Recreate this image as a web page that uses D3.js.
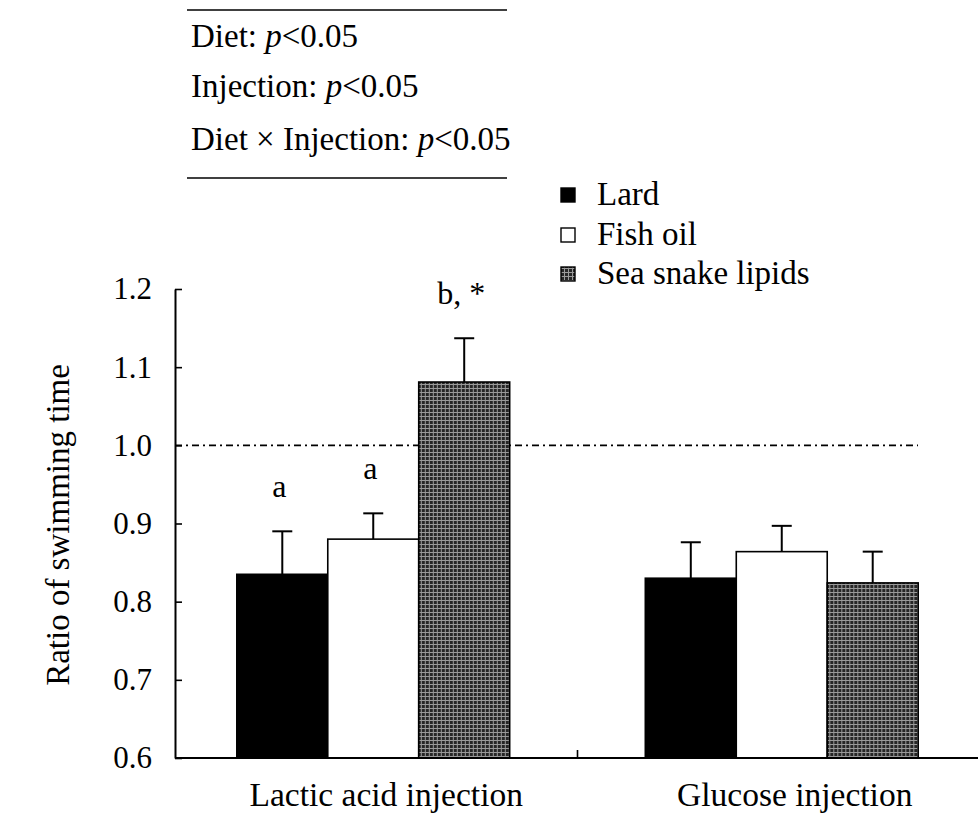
<!DOCTYPE html>
<html>
<head>
<meta charset="utf-8">
<script src="https://cdn.jsdelivr.net/npm/d3@7"></script>
<style>
  html, body { margin: 0; padding: 0; background: #fff; }
</style>
</head>
<body>
<svg id="chart" width="978" height="818"></svg>
<script>
// ---- data ----
const groups = ["Lactic acid injection", "Glucose injection"];
const diets = ["Lard", "Fish oil", "Sea snake lipids"];
const lacticMeans = [0.835, 0.880, 1.081];
const lacticSE = [0.055, 0.033, 0.056];
const glucoseMeans = [0.830, 0.864, 0.824];
const glucoseSE = [0.046, 0.033, 0.040];
const lacticLabels = ["a", "a", "b, *"];
const glucoseLabels = ["", "", ""];
const yTicks = [0.6, 0.7, 0.8, 0.9, 1.0, 1.1, 1.2];
const statsLines = [
  ["Diet: ", "p", "<0.05"],
  ["Injection: ", "p", "<0.05"],
  ["Diet \u00D7 Injection: ", "p", "<0.05"]
];
const refValue = 1.0;

const rows = [
  { group: groups[0], means: lacticMeans, se: lacticSE, labels: lacticLabels },
  { group: groups[1], means: glucoseMeans, se: glucoseSE, labels: glucoseLabels }
];

const FONT = "'Liberation Serif', Tinos, 'Times New Roman', Times, 'DejaVu Serif', serif";

// ---- layout ----
const svg = d3.select("#chart").attr("font-family", FONT);
const axisX = 175, axisBottom = 758, axisRight = 978;

const y = d3.scaleLinear().domain([0.6, 1.2]).range([758, 289]);
const x0 = d3.scaleBand().domain(groups).range([169, 986]).paddingInner(0.332).paddingOuter(0.166);
const x1 = d3.scaleBand().domain(diets).range([0, x0.bandwidth()]).padding(0);

// pattern for sea snake
const defs = svg.append("defs");
const pat = defs.append("pattern").attr("id", "grid").attr("patternUnits", "userSpaceOnUse")
  .attr("width", 4).attr("height", 4);
pat.append("rect").attr("width", 4).attr("height", 4).attr("fill", "#262626");
pat.append("rect").attr("x", 0).attr("y", 0).attr("width", 4).attr("height", 1).attr("fill", "#9a9a9a");
pat.append("rect").attr("x", 0).attr("y", 0).attr("width", 1).attr("height", 4).attr("fill", "#9a9a9a");

const fills = { "Lard": "#000", "Fish oil": "#fff", "Sea snake lipids": "url(#grid)" };

// ---- stats box ----
const stats = svg.append("g");
stats.append("line").attr("x1", 187).attr("x2", 507).attr("y1", 10).attr("y2", 10)
  .attr("stroke", "#000").attr("stroke-width", 1.6);
stats.append("line").attr("x1", 187).attr("x2", 507).attr("y1", 178).attr("y2", 178)
  .attr("stroke", "#000").attr("stroke-width", 1.6);
const baselines = [47, 97, 150];
statsLines.forEach((parts, i) => {
  const t = stats.append("text").attr("x", 191).attr("y", baselines[i]).attr("font-size", 33)
    .attr("font-family", FONT).attr("fill", "#000");
  t.append("tspan").text(parts[0]);
  t.append("tspan").attr("font-style", "italic").text(parts[1]);
  t.append("tspan").text(parts[2]);
});

// ---- reference line ----
svg.append("line")
  .attr("x1", axisX).attr("x2", 918)
  .attr("y1", y(refValue)).attr("y2", y(refValue))
  .attr("stroke", "#000").attr("stroke-width", 1.6)
  .attr("stroke-dasharray", "7,4,2,4");

// ---- bars ----
const gGroups = svg.append("g").selectAll("g").data(rows).join("g")
  .attr("transform", d => `translate(${x0(d.group)},0)`);

gGroups.each(function(row) {
  const g = d3.select(this);
  const items = diets.map((dname, i) => ({ diet: dname, mean: row.means[i], se: row.se[i], label: row.labels[i] }));
  items.forEach(d => {
    const cx = x1(d.diet) + x1.bandwidth() / 2;
    g.append("line").attr("x1", cx).attr("x2", cx).attr("y1", y(d.mean)).attr("y2", y(d.mean + d.se))
      .attr("stroke", "#000").attr("stroke-width", 2);
    g.append("line").attr("x1", cx - 10).attr("x2", cx + 10).attr("y1", y(d.mean + d.se)).attr("y2", y(d.mean + d.se))
      .attr("stroke", "#000").attr("stroke-width", 2);
  });
  g.selectAll("rect.bar").data(items).join("rect").attr("class", "bar")
    .attr("x", d => x1(d.diet))
    .attr("y", d => y(d.mean))
    .attr("width", x1.bandwidth())
    .attr("height", d => y(0.6) - y(d.mean))
    .attr("fill", d => fills[d.diet])
    .attr("stroke", "#000").attr("stroke-width", 1.6);
  g.selectAll("text.sig").data(items.filter(d => d.label)).join("text").attr("class", "sig")
    .attr("x", d => x1(d.diet) + x1.bandwidth() / 2 - 3)
    .attr("y", d => y(d.mean + d.se) - 34)
    .attr("text-anchor", "middle").attr("font-size", 32).attr("font-family", FONT).attr("fill", "#000")
    .text(d => d.label);
});

// ---- y axis ----
const yAxis = d3.axisLeft(y).tickValues(yTicks).tickFormat(d3.format(".1f"))
  .tickSizeInner(-7).tickSizeOuter(0).tickPadding(23);
const gy = svg.append("g").attr("transform", `translate(${axisX},0)`).call(yAxis);
gy.attr("font-family", FONT);
gy.selectAll("text").attr("font-size", 31).attr("font-family", FONT).attr("fill", "#000");
gy.selectAll("line").attr("stroke", "#000").attr("stroke-width", 1.6);
gy.select(".domain").attr("stroke", "#000").attr("stroke-width", 2);

// ---- x axis ----
svg.append("line").attr("x1", axisX).attr("x2", axisRight).attr("y1", axisBottom).attr("y2", axisBottom)
  .attr("stroke", "#000").attr("stroke-width", 2);
const sepX = x0(groups[1]) - x0.step() * x0.paddingInner() / 2;
svg.append("line")
  .attr("x1", sepX).attr("x2", sepX)
  .attr("y1", axisBottom).attr("y2", axisBottom - 8)
  .attr("stroke", "#000").attr("stroke-width", 1.6);
svg.append("g").selectAll("text").data(groups).join("text")
  .attr("x", d => x0(d) + x0.bandwidth() / 2 + 13)
  .attr("y", 806)
  .attr("text-anchor", "middle").attr("font-size", 33.5).attr("font-family", FONT).attr("fill", "#000")
  .text(d => d);

// y label
svg.append("text")
  .attr("transform", "translate(69,525) rotate(-90)")
  .attr("text-anchor", "middle").attr("font-size", 33).attr("font-family", FONT).attr("fill", "#000")
  .text("Ratio of swimming time");

// ---- legend ----
const legend = svg.append("g");
const legY = [195, 235, 274];
diets.forEach((dname, i) => {
  legend.append("rect").attr("x", 561).attr("y", legY[i] - 7).attr("width", 14).attr("height", 14)
    .attr("fill", fills[dname]).attr("stroke", "#000").attr("stroke-width", 1.4);
  legend.append("text").attr("x", 597).attr("y", legY[i] + 10).attr("font-size", 33)
    .attr("font-family", FONT).attr("fill", "#000").text(dname);
});
</script>
</body>
</html>
